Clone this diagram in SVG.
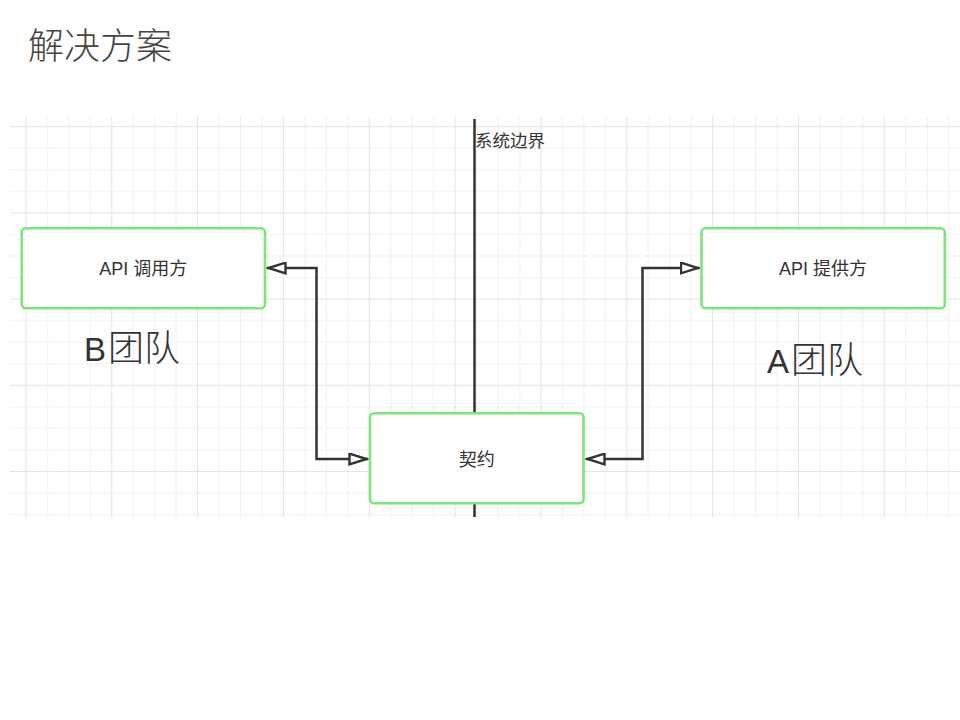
<svg xmlns="http://www.w3.org/2000/svg" width="960" height="720" viewBox="0 0 960 720">
  <style>
    .node rect { fill: #ffffff; stroke: #80e47c; stroke-width: 2.6; }
    .lbl { font-family: "Liberation Sans", "Noto Sans CJK SC", sans-serif; font-size: 18px; fill: #333333; text-anchor: middle; }
    .team { font-family: "Liberation Sans", "Noto Sans CJK SC", sans-serif; font-size: 33px; fill: #333333; }
    .cjk { font-family: "Noto Sans CJK SC", sans-serif; font-size: 36px; font-weight: 300; }
    .conn { fill: none; stroke: #333333; stroke-width: 2.5; marker-start: url(#open); marker-end: url(#open); }
    .minor { stroke: #f0f0f0; stroke-width: 1; }
    .major { stroke: #e4e4e4; stroke-width: 1; }
  </style>
  <defs>
    <pattern id="grid" patternUnits="userSpaceOnUse" x="25.4" y="126.2" width="85.84" height="86.2">
      <line class="minor" x1="21.96" y1="0" x2="21.96" y2="86.2"/>
      <line class="minor" x1="43.42" y1="0" x2="43.42" y2="86.2"/>
      <line class="minor" x1="64.88" y1="0" x2="64.88" y2="86.2"/>
      <line class="minor" x1="0" y1="22.05" x2="85.84" y2="22.05"/>
      <line class="minor" x1="0" y1="43.6" x2="85.84" y2="43.6"/>
      <line class="minor" x1="0" y1="65.15" x2="85.84" y2="65.15"/>
      <line class="major" x1="0.5" y1="0" x2="0.5" y2="86.2"/>
      <line class="major" x1="0" y1="0.5" x2="85.84" y2="0.5"/>
    </pattern>
    <marker id="open" viewBox="0 0 21 13" refX="20" refY="6.5" markerWidth="21" markerHeight="13" markerUnits="userSpaceOnUse" orient="auto-start-reverse">
      <path d="M1.5,1.2 L18.5,6.5 L1.5,11.8 Z" fill="#ffffff" stroke="#333333" stroke-width="2.4" stroke-linejoin="miter"/>
    </marker>
  </defs>

  <rect width="960" height="720" fill="#ffffff"/>

  <text x="28" y="59" font-family="'Noto Sans CJK SC', sans-serif" font-size="36" font-weight="300" fill="#444444">解决方案</text>

  <rect x="10" y="116" width="950" height="402" fill="url(#grid)"/>

  <g id="boundary">
    <line x1="474.5" y1="119" x2="474.5" y2="517" stroke="#333333" stroke-width="2.5"/>
    <text x="475" y="147" font-family="'Noto Sans CJK SC', sans-serif" font-size="17.5" fill="#333333">系统边界</text>
  </g>

  <g id="connectors">
    <path class="conn" d="M368,459 H316.5 V268 H267"/>
    <path class="conn" d="M586,459 H642.5 V268 H699.5"/>
  </g>

  <g id="api-caller" class="node">
    <rect x="21.7" y="228.3" width="243.3" height="80" rx="4"/>
    <text class="lbl" x="143.3" y="274.5">API 调用方</text>
  </g>

  <g id="api-provider" class="node">
    <rect x="701.5" y="228.3" width="243.3" height="80" rx="4"/>
    <text class="lbl" x="823" y="274.5">API 提供方</text>
  </g>

  <g id="contract" class="node">
    <rect x="370" y="413.3" width="213.5" height="90" rx="4"/>
    <text class="lbl" x="476.8" y="465.5">契约</text>
  </g>

  <g id="team-b">
    <text class="team" x="84" y="361">B<tspan class="cjk" dx="2">团队</tspan></text>
  </g>
  <g id="team-a">
    <text class="team" x="767" y="373">A<tspan class="cjk" dx="2">团队</tspan></text>
  </g>
</svg>
